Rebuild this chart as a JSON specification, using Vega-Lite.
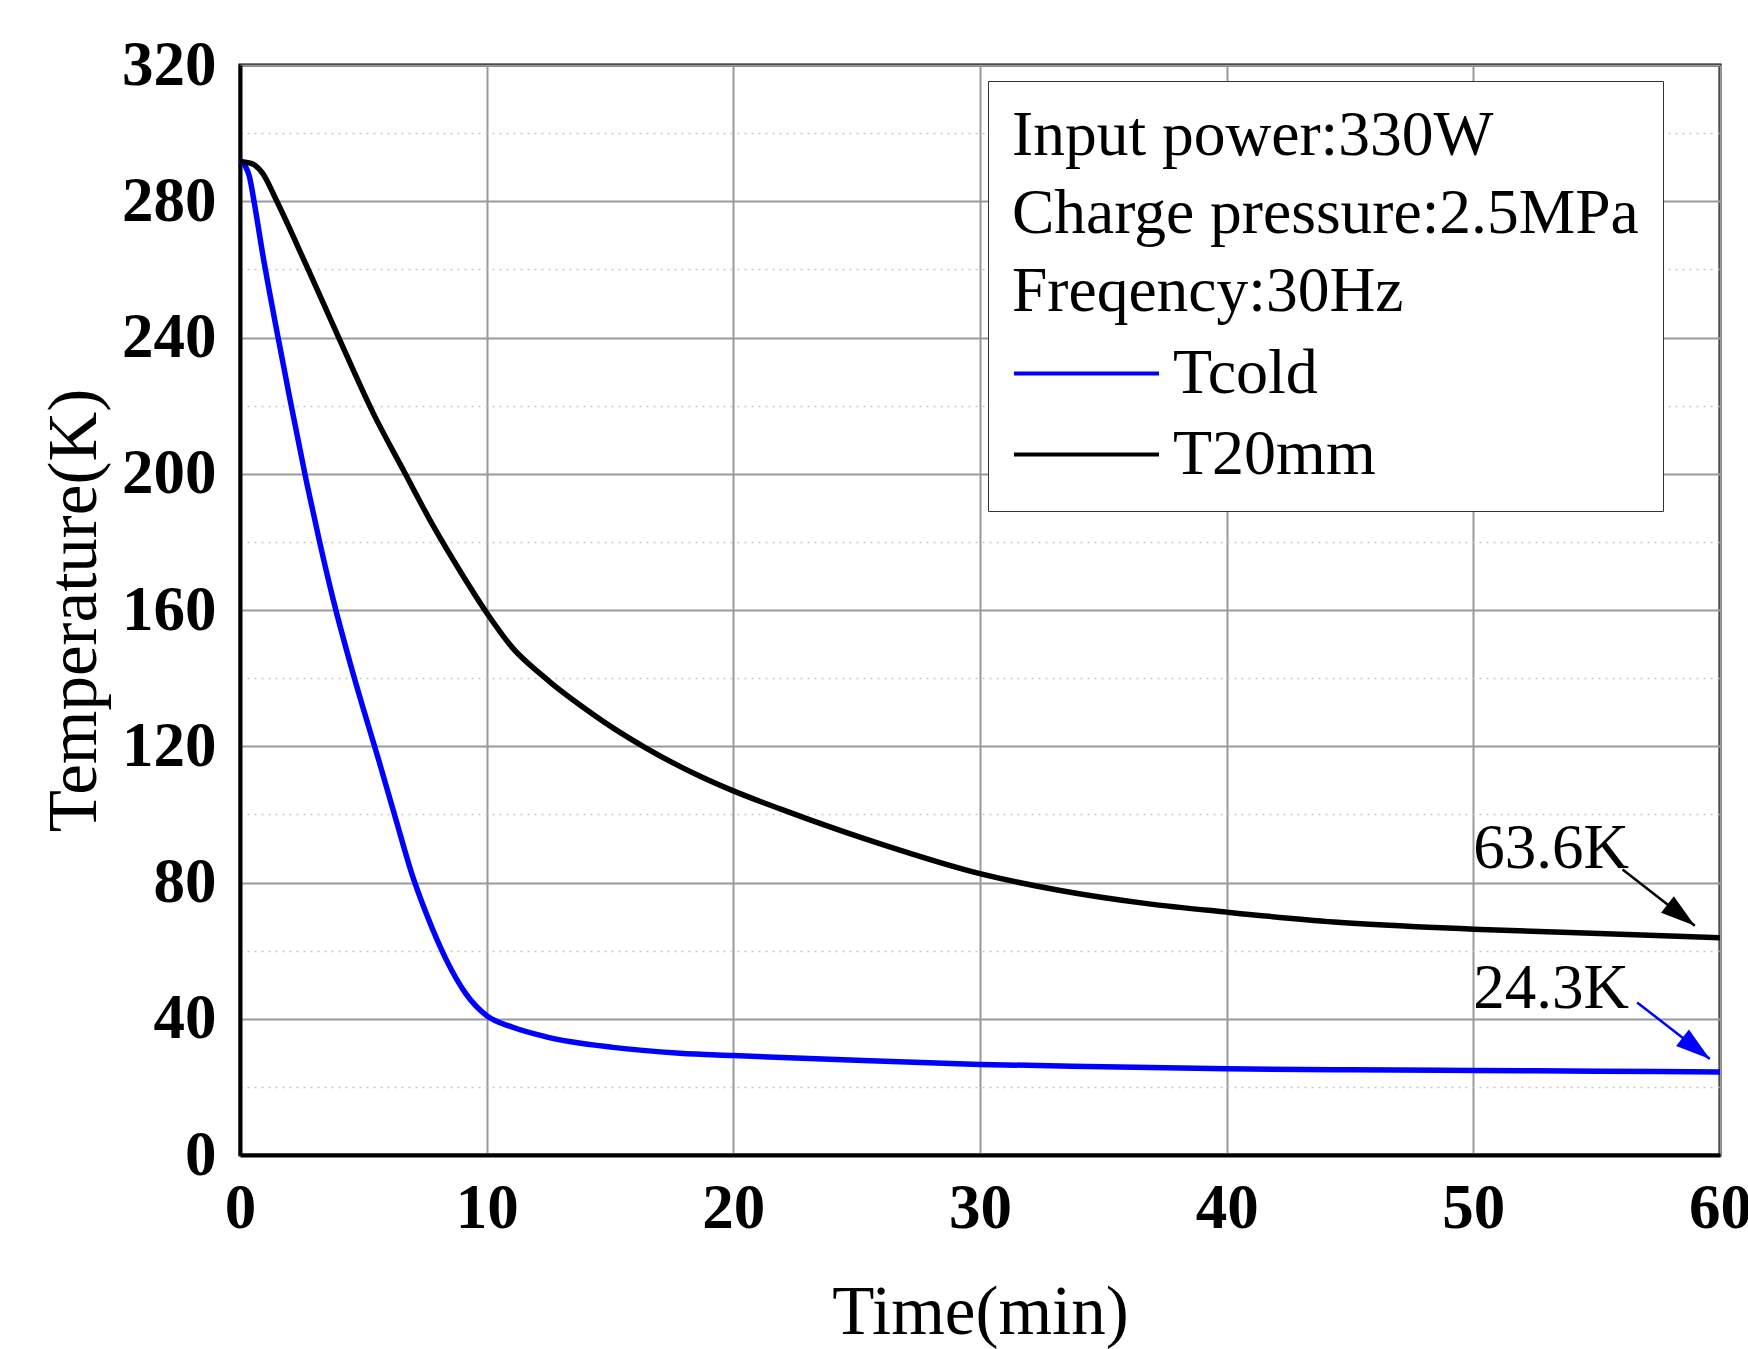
{
  "$schema": "https://vega.github.io/schema/vega-lite/v6.json",
  "width": 1480,
  "height": 1090,
  "autosize": {"type": "none"},
  "padding": {"left": 240, "top": 65, "right": 28, "bottom": 194},
  "background": "white",
  "config": {
    "font": "Liberation Serif",
    "view": {"stroke": "black", "strokeWidth": 3},
    "legend": {
      "orient": "none",
      "legendX": 748,
      "legendY": 16,
      "titleFontSize": 63.5,
      "titleFontWeight": "normal",
      "titleFont": "Liberation Serif",
      "titleLineHeight": 78,
      "titleColor": "black",
      "titlePadding": 17,
      "titleLimit": 2000,
      "labelFontSize": 64,
      "labelFont": "Liberation Serif",
      "labelColor": "black",
      "labelOffset": 12,
      "labelLimit": 1000,
      "symbolType": "stroke",
      "symbolSize": 21025,
      "symbolStrokeWidth": 4,
      "clipHeight": 64,
      "strokeColor": "#333333",
      "fillColor": "white",
      "padding": 24,
      "rowPadding": 17
    }
  },
  "datasets": {
    "curves": [
      {"series": "Tcold", "t": 0, "T": 292},
      {"series": "Tcold", "t": 0.2, "T": 290.5},
      {"series": "Tcold", "t": 0.38, "T": 287.3},
      {"series": "Tcold", "t": 0.58, "T": 279.5},
      {"series": "Tcold", "t": 0.92, "T": 264.5},
      {"series": "Tcold", "t": 1.53, "T": 240.5},
      {"series": "Tcold", "t": 2.03, "T": 221.7},
      {"series": "Tcold", "t": 2.7, "T": 197.5},
      {"series": "Tcold", "t": 3.24, "T": 179.6},
      {"series": "Tcold", "t": 3.78, "T": 163},
      {"series": "Tcold", "t": 4.5, "T": 143.5},
      {"series": "Tcold", "t": 5, "T": 131},
      {"series": "Tcold", "t": 5.64, "T": 115.5},
      {"series": "Tcold", "t": 6.3, "T": 99},
      {"series": "Tcold", "t": 6.99, "T": 82},
      {"series": "Tcold", "t": 7.6, "T": 70},
      {"series": "Tcold", "t": 8.35, "T": 57.5},
      {"series": "Tcold", "t": 9.16, "T": 47.3},
      {"series": "Tcold", "t": 10, "T": 40.9},
      {"series": "Tcold", "t": 11.06, "T": 37.5},
      {"series": "Tcold", "t": 12.41, "T": 34.7},
      {"series": "Tcold", "t": 15.12, "T": 31.6},
      {"series": "Tcold", "t": 17.83, "T": 29.9},
      {"series": "Tcold", "t": 20, "T": 29.2},
      {"series": "Tcold", "t": 25, "T": 27.8},
      {"series": "Tcold", "t": 30, "T": 26.6},
      {"series": "Tcold", "t": 35, "T": 25.9},
      {"series": "Tcold", "t": 40, "T": 25.3},
      {"series": "Tcold", "t": 45, "T": 25.0},
      {"series": "Tcold", "t": 50, "T": 24.8},
      {"series": "Tcold", "t": 55, "T": 24.6},
      {"series": "Tcold", "t": 60, "T": 24.4},
      {"series": "T20mm", "t": 0, "T": 291.6},
      {"series": "T20mm", "t": 0.45, "T": 291.1},
      {"series": "T20mm", "t": 0.92, "T": 288.2},
      {"series": "T20mm", "t": 1.46, "T": 280.5},
      {"series": "T20mm", "t": 2.7, "T": 261},
      {"series": "T20mm", "t": 3.92, "T": 241.3},
      {"series": "T20mm", "t": 5.4, "T": 217.8},
      {"series": "T20mm", "t": 6.62, "T": 201.1},
      {"series": "T20mm", "t": 7.84, "T": 184.6},
      {"series": "T20mm", "t": 9, "T": 170.5},
      {"series": "T20mm", "t": 10, "T": 159.2},
      {"series": "T20mm", "t": 11.06, "T": 148.8},
      {"series": "T20mm", "t": 12.3, "T": 140.5},
      {"series": "T20mm", "t": 12.68, "T": 138.2},
      {"series": "T20mm", "t": 13.77, "T": 132.2},
      {"series": "T20mm", "t": 15.12, "T": 125.4},
      {"series": "T20mm", "t": 16.48, "T": 119.4},
      {"series": "T20mm", "t": 17.83, "T": 114.1},
      {"series": "T20mm", "t": 18.65, "T": 111.2},
      {"series": "T20mm", "t": 20, "T": 106.9},
      {"series": "T20mm", "t": 21.9, "T": 101.6},
      {"series": "T20mm", "t": 23, "T": 98.7},
      {"series": "T20mm", "t": 25.9, "T": 91.5},
      {"series": "T20mm", "t": 30, "T": 82.6},
      {"series": "T20mm", "t": 33.14, "T": 77.8},
      {"series": "T20mm", "t": 36.77, "T": 73.8},
      {"series": "T20mm", "t": 40, "T": 71.3},
      {"series": "T20mm", "t": 44.35, "T": 68.4},
      {"series": "T20mm", "t": 50, "T": 66.3},
      {"series": "T20mm", "t": 55.1, "T": 65},
      {"series": "T20mm", "t": 60, "T": 63.8}
    ],
    "notes": [
      {"t": 50, "T": 84.3, "label": "63.6K"},
      {"t": 50, "T": 43.2, "label": "24.3K"}
    ],
    "arrows": [
      {"series": "T20mm", "t": 56.05, "T": 83.8, "t2": 58.98, "T2": 67.3},
      {"series": "Tcold", "t": 56.64, "T": 44.8, "t2": 59.59, "T2": 28.2}
    ],
    "heads": [
      {"series": "T20mm", "t": 58.98, "T": 67.3},
      {"series": "Tcold", "t": 59.59, "T": 28.2}
    ]
  },
  "encoding": {
    "x": {
      "field": "t", "type": "quantitative",
      "scale": {"domain": [0, 60], "nice": false},
      "axis": {
        "values": [0, 10, 20, 30, 40, 50, 60],
        "grid": true, "gridColor": "#999999", "gridWidth": 2,
        "domainColor": "black", "domainWidth": 4,
        "ticks": false,
        "labelFontSize": 63, "labelFontWeight": "bold", "labelColor": "black",
        "labelPadding": 22, "labelFlush": false, "labelOverlap": false,
        "title": "Time(min)", "titleFontSize": 69, "titleFontWeight": "normal",
        "titleColor": "black", "titlePadding": 38
      }
    },
    "y": {
      "field": "T", "type": "quantitative",
      "scale": {"domain": [0, 320], "nice": false},
      "axis": {
        "values": [0, 20, 40, 60, 80, 100, 120, 140, 160, 180, 200, 220, 240, 260, 280, 300, 320],
        "grid": true,
        "gridColor": {"condition": {"test": "datum.value % 40 === 0", "value": "#999999"}, "value": "#c8c8c8"},
        "gridWidth": {"condition": {"test": "datum.value % 40 === 0", "value": 2}, "value": 1.5},
        "gridDash": {"condition": {"test": "datum.value % 40 === 0", "value": []}, "value": [2, 5]},
        "labelExpr": "datum.value % 40 === 0 ? datum.label : ''",
        "domainColor": "black", "domainWidth": 4,
        "ticks": false,
        "labelFontSize": 63, "labelFontWeight": "bold", "labelColor": "black",
        "labelPadding": 24, "labelFlush": false, "labelOverlap": false,
        "title": "Temperature(K)", "titleFontSize": 69, "titleFontWeight": "normal",
        "titleColor": "black", "titlePadding": 12
      }
    }
  },
  "layer": [
    {
      "data": {"name": "curves"},
      "mark": {"type": "line", "strokeWidth": 5.5, "interpolate": "monotone"},
      "encoding": {
        "color": {
          "field": "series", "type": "nominal",
          "scale": {"domain": ["Tcold", "T20mm"], "range": ["#0000ff", "#000000"]},
          "legend": {
            "title": ["Input power:330W", "Charge pressure:2.5MPa", "Freqency:30Hz"]
          }
        }
      }
    },
    {
      "data": {"name": "notes"},
      "mark": {"type": "text", "align": "left", "baseline": "alphabetic", "fontSize": 63, "font": "Liberation Serif", "color": "black"},
      "encoding": {
        "text": {"field": "label"}
      }
    },
    {
      "data": {"name": "arrows"},
      "mark": {"type": "rule", "strokeWidth": 2.5},
      "encoding": {
        "x2": {"field": "t2"},
        "y2": {"field": "T2"},
        "color": {"field": "series", "type": "nominal", "legend": null}
      }
    },
    {
      "data": {"name": "heads"},
      "mark": {"type": "point", "filled": true, "opacity": 1, "shape": "M0,0L-0.6,2L0.6,2Z", "size": 1200, "angle": 127.8, "strokeWidth": 0},
      "encoding": {
        "color": {"field": "series", "type": "nominal", "legend": null}
      }
    }
  ]
}
